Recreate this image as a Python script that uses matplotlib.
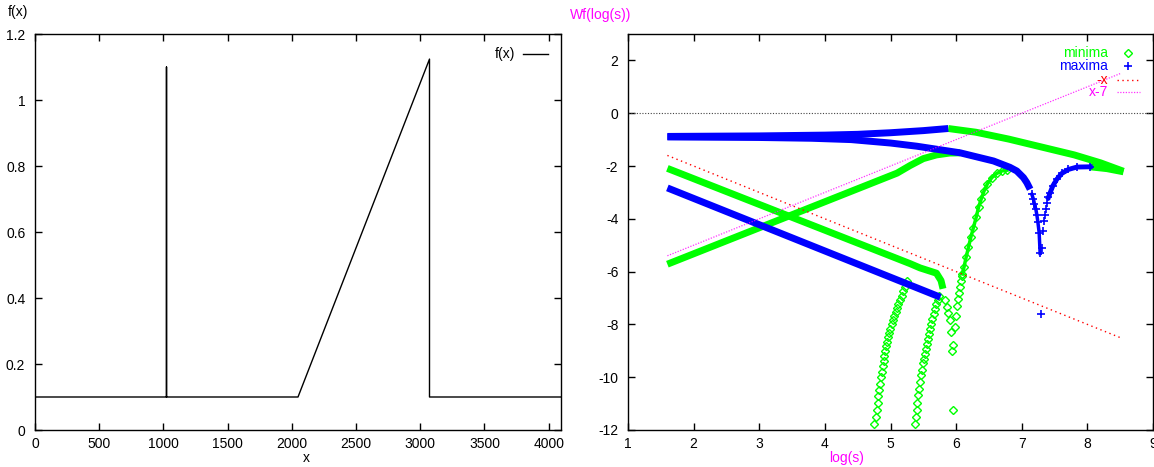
import numpy as np
import matplotlib
matplotlib.use("Agg")
import matplotlib.pyplot as plt
from matplotlib.ticker import FormatStrFormatter

plt.rcParams["font.family"] = ["Liberation Sans", "DejaVu Sans"]
plt.rcParams["font.size"] = 10
plt.rcParams["axes.unicode_minus"] = False

# --- signal f(x) ---
fx_x = [0, 1024, 1024, 1024, 2048, 3072, 3072, 4096]
fx_y = [0.1, 0.1, 1.1, 0.1, 0.1, 1.124, 0.1, 0.1]

# --- maxima lines of Wf(log(s)) ---
max_upper_x = [1.6, 3.0, 4.0, 4.5, 5.0, 5.5, 5.88]
max_upper_y = [-0.88, -0.86, -0.83, -0.80, -0.74, -0.66, -0.58]
max_mid_x = [1.6, 3.0, 3.8, 4.4, 5.0, 5.4, 6.06, 6.57, 6.82, 6.925, 7.026, 7.077, 7.128]
max_mid_y = [-0.9, -0.92, -0.95, -1.0, -1.13, -1.25, -1.5, -1.81, -2.05, -2.19, -2.44, -2.63, -2.88]
max_spike_left_x = [7.153, 7.179, 7.194, 7.215, 7.230, 7.245, 7.265, 7.280]
max_spike_left_y = [-3.07, -3.26, -3.45, -3.64, -3.85, -4.11, -4.52, -5.31]
max_spike_right_x = [7.407, 7.433, 7.474, 7.535, 7.611, 7.712, 7.840, 8.043]
max_spike_right_y = [-3.19, -3.01, -2.75, -2.50, -2.28, -2.13, -2.04, -2.03]
max_spike_tip_x = [7.316, 7.331, 7.346, 7.361, 7.372, 7.387]
max_spike_tip_y = [-5.11, -4.48, -4.10, -3.85, -3.64, -3.42]
max_lower_x = [1.6, 5.76]
max_lower_y = [-2.83, -6.97]
max_single_x = [7.296]
max_single_y = [-7.60]

# --- minima lines of Wf(log(s)) ---
min_top_x = [5.88, 6.3, 6.8, 7.3, 7.8, 8.2, 8.55]
min_top_y = [-0.58, -0.72, -0.98, -1.28, -1.58, -1.88, -2.2]
min_right_x = [8.04, 8.3, 8.55]
min_right_y = [-2.03, -2.1, -2.22]
min_rise_x = [1.6, 5.1, 5.3, 5.5, 5.7, 5.9, 6.06]
min_rise_y = [-5.72, -2.27, -1.98, -1.72, -1.58, -1.51, -1.50]
min_fall_x = [1.6, 5.3, 5.45, 5.6, 5.7, 5.77, 5.80]
min_fall_y = [-2.09, -5.70, -5.86, -5.98, -6.06, -6.34, -6.65]
min_fall_tail_x = [5.832, 5.868, 5.883, 5.909, 5.924, 5.944, 5.954]
min_fall_tail_y = [-7.09, -7.35, -7.57, -7.85, -8.29, -9.02, -11.25]
min_tail1_x = [4.755, 4.776, 4.791, 4.806, 4.816, 4.831, 4.841, 4.852, 4.867, 4.882,
               4.898, 4.907, 4.922, 4.938, 4.953, 4.968, 4.983, 4.999, 5.020, 5.040,
               5.059, 5.081, 5.101, 5.121, 5.146, 5.172, 5.197, 5.223, 5.248]
min_tail1_y = [-11.79, -11.50, -11.25, -10.97, -10.72, -10.47, -10.24, -10.01, -9.80, -9.58,
               -9.38, -9.21, -9.02, -8.83, -8.67, -8.48, -8.31, -8.16, -8.00, -7.85,
               -7.70, -7.54, -7.37, -7.22, -7.07, -6.91, -6.74, -6.57, -6.37]
min_tail2_x = [5.375, 5.390, 5.401, 5.411, 5.426, 5.436, 5.451, 5.466, 5.482, 5.497,
               5.507, 5.523, 5.538, 5.553, 5.569, 5.584, 5.604, 5.619, 5.639, 5.660,
               5.680, 5.700, 5.721, 5.741]
min_tail2_y = [-11.79, -11.50, -11.25, -10.99, -10.68, -10.43, -10.18, -9.92, -9.71, -9.48,
               -9.30, -9.11, -8.92, -8.73, -8.54, -8.35, -8.16, -7.97, -7.79, -7.60,
               -7.41, -7.22, -7.07, -6.94]
min_steep_low_x = [5.959, 5.985, 5.995, 6.010, 6.026, 6.041, 6.056, 6.072, 6.087]
min_steep_low_y = [-8.79, -8.10, -7.69, -7.32, -7.03, -6.82, -6.59, -6.37, -6.15]
min_steep_x = [6.096, 6.122, 6.152, 6.188, 6.224, 6.264, 6.305, 6.341, 6.381, 6.427,
               6.478, 6.544, 6.620, 6.697, 6.773]
min_steep_y = [-6.09, -5.81, -5.46, -5.08, -4.70, -4.33, -3.95, -3.57, -3.26, -2.94,
               -2.67, -2.44, -2.28, -2.19, -2.16]

# reference lines
ref_x = np.array([1.6, 8.5])

GREEN = "#00ff00"
BLUE = "#0000ff"
RED = "#ff0000"
MAGENTA = "#ff00ff"

fig = plt.figure(figsize=(11.54, 4.67), dpi=100)
ax1 = fig.add_axes([35 / 1154, 37 / 467, 526 / 1154, 396 / 467])
ax2 = fig.add_axes([628 / 1154, 37 / 467, 525 / 1154, 396 / 467])

for ax in (ax1, ax2):
    ax.tick_params(direction="in", top=True, right=True, length=5, width=1,
                   labelsize=10)
    ax.tick_params(axis="x", pad=5)
    ax.tick_params(axis="y", pad=7)
    for s in ax.spines.values():
        s.set_linewidth(1)

# left panel
ax1.plot(fx_x, fx_y, color="black", lw=1)
ax1.set_xlim(0, 4096)
ax1.set_ylim(0, 1.2)
ax1.set_xticks(np.arange(0, 4001, 500))
ax1.set_yticks(np.arange(0, 1.21, 0.2))
ax1.yaxis.set_major_formatter(FormatStrFormatter("%g"))
ax1.text(0.913, 0.95, "f(x)", transform=ax1.transAxes, ha="right", va="center")
ax1.plot([0.928, 0.976], [0.95, 0.95], color="black", lw=1,
         transform=ax1.transAxes)

# right panel
ax2.axhline(0, color="#444444", ls=(0, (1, 1.5)), lw=0.8)

band = dict(lw=5, solid_capstyle="butt")
dia = dict(ls="none", marker="D", ms=4, mfc="none", mec=GREEN, mew=1)
plus = dict(ls="none", marker="+", ms=6, mec=BLUE, mew=1.2)

# minima
ax2.plot(min_top_x, min_top_y, color=GREEN, **band)
ax2.plot(min_right_x, min_right_y, color=GREEN, **band)
ax2.plot(min_rise_x, min_rise_y, color=GREEN, **band)
ax2.plot(min_fall_x, min_fall_y, color=GREEN, **band)
ax2.plot(min_fall_tail_x, min_fall_tail_y, **dia)
ax2.plot(min_tail1_x, min_tail1_y, **dia)
ax2.plot(min_tail2_x, min_tail2_y, **dia)
ax2.plot(min_steep_low_x, min_steep_low_y, **dia)
ax2.plot(min_steep_x, min_steep_y, color=GREEN, lw=2.5)
ax2.plot(min_steep_x, min_steep_y, **dia)

# maxima
ax2.plot(max_upper_x, max_upper_y, color=BLUE, **band)
ax2.plot(max_mid_x, max_mid_y, color=BLUE, **band)
ax2.plot(max_spike_left_x, max_spike_left_y, color=BLUE, lw=2.5)
ax2.plot(max_spike_left_x, max_spike_left_y, **plus)
ax2.plot(max_spike_right_x, max_spike_right_y, color=BLUE, lw=3.5)
ax2.plot(max_spike_right_x, max_spike_right_y, **plus)
ax2.plot(max_spike_tip_x, max_spike_tip_y, **plus)
ax2.plot(max_lower_x, max_lower_y, color=BLUE, **band)
ax2.plot(max_single_x, max_single_y, **plus)

# -x and x-7
ax2.plot(ref_x, -ref_x, color=RED, ls=(0, (1, 2.5)), lw=1)
ax2.plot(ref_x, ref_x - 7, color=MAGENTA, ls=(0, (1, 1.2)), lw=0.9, alpha=0.8)

ax2.set_xlim(1, 9)
ax2.set_ylim(-12, 3)
ax2.set_xticks(np.arange(1, 10, 1))
ax2.set_yticks(np.arange(-12, 3, 2))

# key
key_rows = [0.953, 0.920, 0.884, 0.853]
ax2.text(0.914, key_rows[0], "minima", color=GREEN, transform=ax2.transAxes,
         ha="right", va="center")
ax2.plot([0.952], [key_rows[0]], transform=ax2.transAxes, **dia)
ax2.text(0.914, key_rows[1], "maxima", color=BLUE, transform=ax2.transAxes,
         ha="right", va="center")
ax2.plot([0.952], [key_rows[1]], transform=ax2.transAxes, **plus)
ax2.text(0.914, key_rows[2], "-x", color=RED, transform=ax2.transAxes,
         ha="right", va="center")
ax2.plot([0.931, 0.975], [key_rows[2]] * 2, color=RED, ls=(0, (1, 2.5)), lw=1,
         transform=ax2.transAxes)
ax2.text(0.914, key_rows[3], "x-7", color=MAGENTA, transform=ax2.transAxes,
         ha="right", va="center")
ax2.plot([0.931, 0.975], [key_rows[3]] * 2, color=MAGENTA, ls=(0, (1, 1.2)),
         lw=0.9, alpha=0.8, transform=ax2.transAxes)

# axis labels
fig.text(18 / 1154, 1 - 12 / 467, "f(x)", ha="center", va="center")
fig.text(601 / 1154, 1 - 15 / 467, "Wf(log(s))", color=MAGENTA,
         ha="center", va="center")
fig.text(306 / 1154, 1 - 458 / 467, "x", ha="center", va="center")
fig.text(847 / 1154, 1 - 458 / 467, "log(s)", color=MAGENTA,
         ha="center", va="center")

fig.savefig("out.png", dpi=100)
